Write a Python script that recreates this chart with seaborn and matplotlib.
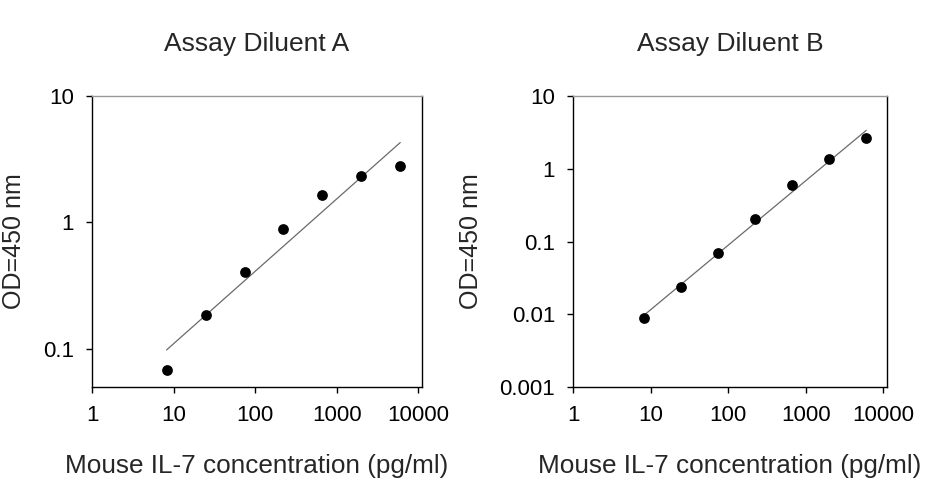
import numpy as np
import pandas as pd
import seaborn as sns
import matplotlib
matplotlib.use("Agg")
import matplotlib.pyplot as plt

# standard curve concentrations (pg/ml), 3-fold dilutions
conc = [8.2, 24.7, 74, 222, 667, 2000, 6000]
od_a = [0.0687, 0.185, 0.405, 0.89, 1.64, 2.33, 2.79]
od_b = [0.0090, 0.0237, 0.070, 0.203, 0.596, 1.355, 2.60]

titles = ["Assay Diluent A", "Assay Diluent B"]
x_ticks = [1, 10, 100, 1000, 10000]
x_labels = ["1", "10", "100", "1000", "10000"]
y_ticks_a = [0.1, 1, 10]
y_labels_a = ["0.1", "1", "10"]
y_ticks_b = [0.001, 0.01, 0.1, 1, 10]
y_labels_b = ["0.001", "0.01", "0.1", "1", "10"]

sns.set_style("ticks")
plt.rcParams["font.family"] = ["Liberation Sans", "DejaVu Sans"]

fig = plt.figure(figsize=(9.26, 4.8), dpi=100)
ax_a = fig.add_axes([0.0994, 0.193, 0.356, 0.6076])
ax_b = fig.add_axes([0.619, 0.193, 0.3385, 0.6076])

panels = [
    (ax_a, od_a, titles[0], y_ticks_a, y_labels_a, (0.05, 10)),
    (ax_b, od_b, titles[1], y_ticks_b, y_labels_b, (0.001, 10)),
]

for ax, od, title, yt, yl, ylim in panels:
    df = pd.DataFrame({"conc": conc, "od": od})
    # log-log linear regression line over the standard range
    k, b = np.polyfit(np.log10(df["conc"]), np.log10(df["od"]), 1)
    fit = pd.DataFrame({"conc": [conc[0], conc[-1]]})
    fit["od"] = 10 ** (k * np.log10(fit["conc"]) + b)
    sns.lineplot(data=fit, x="conc", y="od", ax=ax, color="#6a6a6a", lw=0.9)
    sns.scatterplot(data=df, x="conc", y="od", ax=ax, color="black",
                    s=60, edgecolor="black", linewidth=0, zorder=3)
    ax.set_xscale("log")
    ax.set_yscale("log")
    ax.set_xlim(1, 11000)
    ax.set_ylim(*ylim)
    ax.minorticks_off()
    ax.set_xticks(x_ticks)
    ax.set_xticklabels(x_labels, fontsize=16)
    ax.set_yticks(yt)
    ax.set_yticklabels(yl, fontsize=16)
    ax.minorticks_off()
    ax.tick_params(axis="both", which="major", direction="out", length=4,
                   width=1, pad=9, colors="black")
    for s in ["left", "bottom", "right"]:
        ax.spines[s].set_color("black")
        ax.spines[s].set_linewidth(1)
    ax.spines["top"].set_color("#999999")
    ax.spines["top"].set_linewidth(1)
    ax.set_title(title, fontsize=19, pad=32)
    ax.set_xlabel("Mouse IL-7 concentration (pg/ml)", fontsize=18.8, labelpad=20)
    ax.set_ylabel("OD=450 nm", fontsize=18, labelpad=12)

fig.savefig("out.png", dpi=100)
